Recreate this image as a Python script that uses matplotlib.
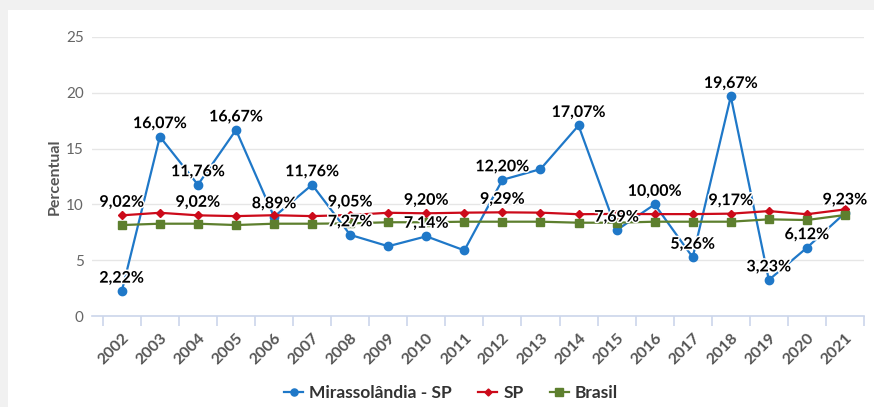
import matplotlib as mpl
import matplotlib.pyplot as plt
import matplotlib.patheffects as pe
from matplotlib.patches import Rectangle
from matplotlib.ticker import FixedLocator
import numpy as np

mpl.rcParams["font.family"] = ["Lato", "DejaVu Sans"]

# ---------------- data ----------------
years = list(range(2002, 2022))
mirassolandia = [2.22, 16.07, 11.76, 16.67, 8.89, 11.76, 7.27, 6.25, 7.14, 5.88,
                 12.20, 13.16, 17.07, 7.69, 10.00, 5.26, 19.67, 3.23, 6.12, 9.23]
sp = [9.02, 9.25, 9.02, 8.95, 9.03, 8.95, 9.05, 9.25, 9.20, 9.26,
      9.29, 9.26, 9.12, 9.15, 9.13, 9.13, 9.17, 9.40, 9.12, 9.55]
brasil = [8.15, 8.27, 8.27, 8.15, 8.27, 8.27, 8.30, 8.40, 8.40, 8.45,
          8.45, 8.45, 8.36, 8.36, 8.45, 8.45, 8.45, 8.66, 8.60, 9.05]
series_names = ["Mirassolândia - SP", "SP", "Brasil"]

# which points get a visible data label (others hidden as overlapping)
label_years_mir = [2002, 2003, 2004, 2005, 2006, 2007, 2008, 2010, 2012, 2014,
                   2015, 2016, 2017, 2018, 2019, 2020, 2021]
label_years_sp = [2002, 2004, 2008, 2010, 2012, 2018]

# ---------------- style ----------------
c_blue = "#1f78c8"
c_red = "#cc0a1a"
c_green = "#5d7f2e"
grid_c = "#e6e6e6"
axis_c = "#ccd6eb"
tick_txt = "#666666"

fig = plt.figure(figsize=(8.74, 4.07), dpi=100, facecolor="#f1f1f1")
# white card behind everything
card = Rectangle((8 / 874, 0), 1, 1 - 10 / 407, transform=fig.transFigure,
                 facecolor="white", edgecolor="none", zorder=-10)
fig.add_artist(card)
ax = fig.add_axes([92 / 874, 1 - 316 / 407, (864 - 92) / 874, (316 - 37) / 407])
ax.set_facecolor("none")
ax.set_zorder(1)

x = np.array(years)
ax.plot(x, mirassolandia, color=c_blue, lw=1.6, marker="o", ms=6, zorder=3,
        label=series_names[0])
ax.plot(x, sp, color=c_red, lw=1.6, marker="D", ms=4.2, zorder=4,
        label=series_names[1])
ax.plot(x, brasil, color=c_green, lw=1.6, marker="s", ms=6, zorder=5,
        label=series_names[2])

def fmt(v):
  return f"{v:.2f}%".replace(".", ",")

outline = [pe.withStroke(linewidth=2.2, foreground="white")]
for yr, v in zip(years, mirassolandia):
  if yr in label_years_mir:
    ax.annotate(fmt(v), (yr, v), xytext=(0, 4), textcoords="offset points",
                ha="center", va="bottom", fontsize=11.5, fontweight="bold",
                color="black", path_effects=outline, zorder=10)
for yr, v in zip(years, sp):
  if yr in label_years_sp:
    ax.annotate(fmt(v), (yr, v), xytext=(0, 4), textcoords="offset points",
                ha="center", va="bottom", fontsize=11.5, fontweight="bold",
                color="black", path_effects=outline, zorder=10)

ax.set_ylim(0, 25)
ax.set_yticks([0, 5, 10, 15, 20, 25])
ax.set_xlim(2001.5 - 10.7 / 37.8, 2021.5)
ax.yaxis.grid(True, color=grid_c, lw=1, zorder=0)
ax.set_axisbelow(True)
for s in ["top", "right", "left"]:
  ax.spines[s].set_visible(False)
ax.spines["bottom"].set_color(axis_c)
ax.spines["bottom"].set_linewidth(1.2)

ax.tick_params(axis="y", length=0, pad=6, labelsize=11, labelcolor=tick_txt)
ax.set_xticks(years)
ax.set_xticklabels([str(y) for y in years], rotation=45, ha="right",
                   rotation_mode="anchor", fontsize=11.5, fontweight="bold",
                   color="#555555")
ax.tick_params(axis="x", which="major", length=0, pad=11)
ax.xaxis.set_minor_locator(FixedLocator(np.arange(2001.5, 2022, 1.0)))
ax.tick_params(axis="x", which="minor", length=7, color=axis_c, width=1.2)

ax.set_ylabel("Percentual", fontsize=11.5, fontweight="bold", color="#555555",
              labelpad=3)

leg = fig.legend(loc="center", bbox_to_anchor=(451 / 874, 1 - 393 / 407), ncol=3,
                 frameon=False, handlelength=1.1, handletextpad=0.35,
                 columnspacing=1.5, markerscale=0.85,
                 prop={"weight": "bold", "size": 12.5})
for t in leg.get_texts():
  t.set_color("#333333")

fig.savefig("out.png", dpi=100, facecolor=fig.get_facecolor())
